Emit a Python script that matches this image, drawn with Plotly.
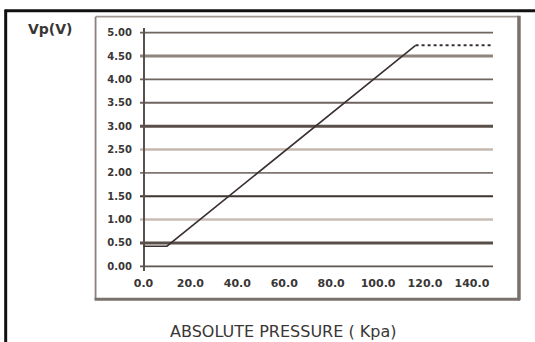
import plotly.graph_objects as go

# ---- data ----
pressure_solid = [0.0, 10.0, 116.0]
voltage_solid = [0.43, 0.43, 4.73]
pressure_dashed = [116.0, 150.0]
voltage_dashed = [4.73, 4.73]

y_ticks = [0.0, 0.5, 1.0, 1.5, 2.0, 2.5, 3.0, 3.5, 4.0, 4.5, 5.0]
y_tick_labels = ["0.00", "0.50", "1.00", "1.50", "2.00", "2.50", "3.00", "3.50", "4.00", "4.50", "5.00"]
x_ticks = [0, 20, 40, 60, 80, 100, 120, 140]
x_tick_labels = ["0.0", "20.0", "40.0", "60.0", "80.0", "100.0", "120.0", "140.0"]

# grid line style per y level (width, colour)
grid_width = [1.6, 3.0, 2.5, 2.2, 1.6, 2.5, 3.0, 1.8, 1.8, 3.0, 1.8]
grid_color = ["#5e5450", "#5a4e48", "#c8bcb4", "#3e3430", "#7e7470", "#c4b8b0",
              "#5a4e48", "#6e6460", "#6e6460", "#8e8480", "#6e6460"]

W, H = 535, 342
L, R, T, B = 139.5, 42.0, 28.3, 71.3
PW, PH = W - L - R, H - T - B

def px(x):
    return (x - L) / PW

def py(y):
    return (H - B - y) / PH

fig = go.Figure()

fig.add_trace(go.Scatter(x=pressure_solid, y=voltage_solid, mode="lines",
                         line=dict(color="#3a3030", width=1.6), showlegend=False))
fig.add_trace(go.Scatter(x=pressure_dashed, y=voltage_dashed, mode="lines",
                         line=dict(color="#3a3030", width=2, dash="dot"), showlegend=False))

shapes = []
for yv, wv, cv in zip(y_ticks, grid_width, grid_color):
    shapes.append(dict(type="line", xref="paper", yref="y", x0=0, x1=1, y0=yv, y1=yv,
                       line=dict(color=cv, width=wv), layer="below"))

# inner gray box (thin top/left, heavier right/bottom)
def seg(x0, y0, x1, y1, color, width):
    return dict(type="line", xref="paper", yref="paper",
                x0=px(x0), x1=px(x1), y0=py(y0), y1=py(y1),
                line=dict(color=color, width=width))

shapes.append(seg(95, 17, 519, 17, "#a09894", 1.8))
shapes.append(seg(95, 17, 95, 299, "#8a807c", 1.8))
shapes.append(seg(519, 16, 519, 300, "#7a706c", 3.5))
shapes.append(seg(94, 299, 520, 299, "#7a706c", 3))
# outer black frame (top and left)
shapes.append(seg(4, 11, 545, 11, "#111111", 3))
shapes.append(seg(5, 10, 5, 352, "#111111", 3))

fig.update_layout(
    width=W, height=H,
    margin=dict(l=L, r=R, t=T, b=B, pad=0),
    paper_bgcolor="white", plot_bgcolor="white",
    shapes=shapes,
    xaxis=dict(range=[-1.5, 149], tickvals=x_ticks, ticktext=x_tick_labels,
               showgrid=False, zeroline=True, zerolinecolor="#5a504c", zerolinewidth=2,
               showline=False, ticks="",
               tickfont=dict(family="DejaVu Sans", size=11, color="#3a3636", weight="bold"),
               ticklabelstandoff=4),
    yaxis=dict(range=[-0.1, 5.1], tickvals=y_ticks, ticktext=y_tick_labels,
               showgrid=False, zeroline=False, showline=False, ticks="",
               tickfont=dict(family="DejaVu Sans", size=10, color="#3a3636", weight="bold"),
               ticklabelstandoff=7),
    annotations=[
        dict(text="Vp(V)", xref="paper", yref="paper", x=px(50), y=py(29),
             showarrow=False, font=dict(family="DejaVu Sans", size=14, color="#3a3636", weight="bold"),
             xanchor="center", yanchor="middle"),
        dict(text="ABSOLUTE PRESSURE ( Kpa)", xref="paper", yref="paper", x=px(283), y=py(331),
             showarrow=False, font=dict(family="DejaVu Sans", size=16, color="#3a3636"),
             xanchor="center", yanchor="middle"),
    ],
)

fig.write_html("out.html", config={"displayModeBar": False},
               post_script="document.body.style.margin='0';document.body.style.overflow='hidden';")
